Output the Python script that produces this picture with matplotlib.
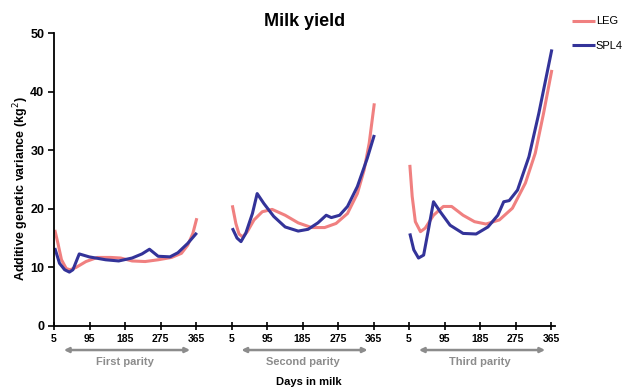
import numpy as np
import matplotlib
matplotlib.use("Agg")
import matplotlib.pyplot as plt

plt.rcParams['font.family'] = ['Liberation Sans', 'DejaVu Sans']

# days in milk and additive genetic variance (kg^2)
leg_days_1 = [5, 13, 22, 34, 44, 59, 84, 113, 147, 172, 201, 234, 267, 301, 326, 342, 355, 365]
leg_vals_1 = [16.4, 14.1, 11.3, 9.8, 9.6, 10.0, 11.0, 11.7, 11.7, 11.6, 11.1, 11.0, 11.3, 11.7, 12.4, 13.8, 15.8, 18.4]
spl_days_1 = [5, 17, 30, 42, 51, 67, 92, 134, 167, 201, 226, 245, 267, 297, 317, 342, 365]
spl_vals_1 = [13.3, 10.7, 9.6, 9.2, 9.6, 12.3, 11.8, 11.3, 11.1, 11.6, 12.3, 13.1, 11.9, 11.8, 12.5, 14.1, 15.9]

leg_days_2 = [5, 14, 22, 31, 43, 60, 81, 106, 139, 172, 206, 239, 268, 297, 322, 339, 352, 365]
leg_vals_2 = [20.6, 17.5, 15.7, 15.2, 16.1, 18.1, 19.5, 19.9, 18.9, 17.6, 16.8, 16.8, 17.5, 19.2, 22.6, 26.6, 31.2, 38.0]
spl_days_2 = [5, 17, 27, 39, 56, 68, 85, 110, 139, 172, 197, 222, 243, 256, 277, 297, 322, 347, 365]
spl_vals_2 = [16.7, 15.0, 14.4, 15.8, 19.2, 22.6, 20.9, 18.7, 16.9, 16.2, 16.5, 17.6, 18.9, 18.5, 18.9, 20.4, 23.8, 28.6, 32.6]

leg_days_3 = [5, 11, 19, 32, 44, 65, 90, 111, 140, 169, 198, 232, 265, 298, 323, 344, 365]
leg_vals_3 = [27.5, 22.1, 17.8, 16.1, 16.7, 18.9, 20.4, 20.4, 18.9, 17.8, 17.4, 18.1, 20.1, 24.4, 29.5, 36.3, 43.7]
spl_days_3 = [5, 15, 27, 40, 52, 65, 82, 107, 140, 173, 203, 228, 243, 257, 278, 307, 332, 365]
spl_vals_3 = [15.8, 13.0, 11.6, 12.1, 16.4, 21.2, 19.5, 17.2, 15.8, 15.7, 16.9, 18.9, 21.2, 21.4, 23.2, 28.9, 36.3, 47.2]

parities = ["First parity", "Second parity", "Third parity"]
tick_days = [5, 95, 185, 275, 365]

leg_color = "#f08080"
spl_color = "#333399"
gap = 450  # each parity block on the shared x axis

fig = plt.figure(figsize=(6.37, 3.92), dpi=100)
ax = fig.add_axes([54 / 637, 1 - 326 / 392, 501 / 637, 293 / 392])

leg_sets = [(leg_days_1, leg_vals_1), (leg_days_2, leg_vals_2), (leg_days_3, leg_vals_3)]
spl_sets = [(spl_days_1, spl_vals_1), (spl_days_2, spl_vals_2), (spl_days_3, spl_vals_3)]

for g in range(3):
    d, v = leg_sets[g]
    x = np.array(d) - 3 + g * gap
    l1, = ax.plot(x, v, color=leg_color, lw=2.2, solid_capstyle='butt')
    d, v = spl_sets[g]
    x = np.array(d) - 3 + g * gap
    l2, = ax.plot(x, v, color=spl_color, lw=2.2, solid_capstyle='butt')

xt = []
xl = []
for g in range(3):
    for t in tick_days:
        xt.append(t - 5 + g * gap)
        xl.append(str(t))
ax.set_xticks(xt)
ax.set_xticklabels(xl, fontsize=7.5, fontweight='bold')
ax.set_xlim(0, 1270)
ax.set_ylim(0, 50)
ax.set_yticks([0, 10, 20, 30, 40, 50])
ax.set_yticklabels(["0", "10", "20", "30", "40", "50"], fontsize=9, fontweight='bold')
ax.tick_params(axis='x', direction='inout', length=6, width=1.2, pad=3)
ax.tick_params(axis='y', direction='out', length=4, width=1.2, pad=3)
for s in ['top', 'right']:
    ax.spines[s].set_visible(False)
for s in ['left', 'bottom']:
    ax.spines[s].set_linewidth(1.3)

ax.set_ylabel("Additive genetic variance (kg$^2$)", fontsize=9, fontweight='bold')
ax.yaxis.set_label_coords(-0.045, 0.47)
ax.set_title("Milk yield", fontsize=13, fontweight='bold', pad=5)

# parity arrows and labels under the axis
for g in range(3):
    x0 = g * gap
    ax.annotate("", xy=(x0 + 352, -4.1), xytext=(x0 + 18, -4.1),
                arrowprops=dict(arrowstyle='<|-|>', color='#8c8c8c', lw=1.8,
                                mutation_scale=7),
                annotation_clip=False)
    ax.text(x0 + 180, -6.2, parities[g], ha='center', va='center',
            fontsize=8, fontweight='bold', color='#8c8c8c', clip_on=False)

fig.text(309 / 637, 1 - 382 / 392, "Days in milk", ha='center', va='center',
         fontsize=8, fontweight='bold')

fig.legend([l1, l2], ["LEG", "SPL4"], loc='upper left', bbox_to_anchor=(568 / 637, 1 - 12 / 392),
           frameon=False, fontsize=8, handlelength=2.0, handletextpad=0.1,
           labelspacing=1.3, borderaxespad=0)

fig.savefig("out.png", dpi=100)
